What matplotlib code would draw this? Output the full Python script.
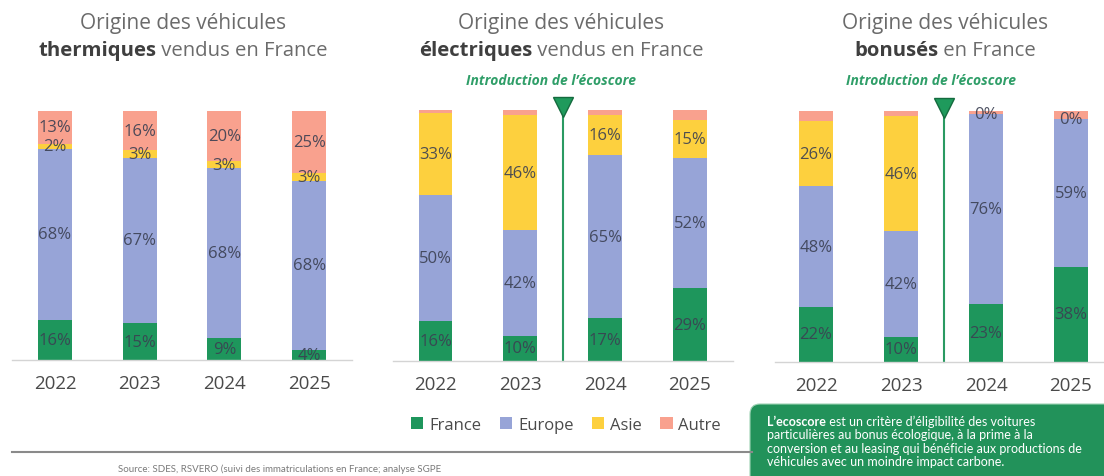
import matplotlib
matplotlib.use("Agg")
import matplotlib.pyplot as plt
from matplotlib.patches import Patch, FancyBboxPatch
from matplotlib.lines import Line2D
from matplotlib.transforms import IdentityTransform
import numpy as np

# ---------------- data ----------------
years = ["2022", "2023", "2024", "2025"]
series = ["France", "Europe", "Asie", "Autre"]

therm_france = [16, 15, 9, 4]
therm_europe = [68, 67, 68, 68]
therm_asie = [2, 3, 3, 3]
therm_autre = [13, 16, 20, 25]

elec_france = [16, 10, 17, 29]
elec_europe = [50, 42, 65, 52]
elec_asie = [33, 46, 16, 15]
elec_autre = [1, 2, 2, 4]

bonus_france = [22, 10, 23, 38]
bonus_europe = [48, 42, 76, 59]
bonus_asie = [26, 46, 0, 0]
bonus_autre = [4, 2, 1, 3]

titles_bold = ["thermiques", "électriques", "bonusés"]
titles_rest = [" vendus en France", " vendus en France", " en France"]

colors = ["#1e965c", "#97a4d7", "#fdd03e", "#f9a18e"]
FONT = "Open Sans"
W, H = 1104, 477

fig = plt.figure(figsize=(W / 100, H / 100), dpi=100)
fig.patch.set_facecolor("white")
renderer = fig.canvas.get_renderer()


def fx(px):
    return px / W


def fy(py):
    return 1 - py / H


def mixed_line(parts, x, y, ha="center", **common):
    """parts: list of (text, kwargs); x,y in pixels (y from top)."""
    texts = []
    widths = []
    for s, kw in parts:
        t = fig.text(0, 0, s, **common, **kw)
        bb = t.get_window_extent(renderer)
        texts.append(t)
        widths.append(bb.width)
    total = sum(widths)
    start = x - total / 2 if ha == "center" else x
    cur = start
    for t, w in zip(texts, widths):
        t.set_position((fx(cur), fy(y)))
        t.set_ha("left")
        t.set_va("center")
        cur += w


# panels: (left px, right px, baseline px, px per unit, first center, spacing)
panels = [
    (12, 352, 361, 2.49, 55, 84.7),
    (393, 733, 362, 2.51, 435.5, 84.8),
    (775, 1104, 363, 2.51, 816, 85.0),
]
data = [
    (therm_france, therm_europe, therm_asie, therm_autre),
    (elec_france, elec_europe, elec_asie, elec_autre),
    (bonus_france, bonus_europe, bonus_asie, bonus_autre),
]
labelled = [[True, True, True, True], [True, True, True, False], [True, True, True, False]]
title_centers = [183, 561, 945]
intro_centers = [None, 551, 931]

YMAX = 105
lab_color = "#3b4052"
for i, (L, R, base, ppu, c0, sp) in enumerate(panels):
    top = base - YMAX * ppu
    ax = fig.add_axes([fx(L), fy(base), fx(R - L), (base - top) / H])
    ax.set_xlim((L - c0) / sp, (R - c0) / sp)
    ax.set_ylim(0, YMAX)
    x = np.arange(len(years))
    raw = np.array(data[i], dtype=float)
    shares = raw / raw.sum(axis=0) * 100  # 100 % stacked
    bottom = np.zeros(len(years))
    for k in range(len(series)):
        vals = shares[k]
        ax.bar(x, vals, width=0.4, bottom=bottom, color=colors[k], linewidth=0, zorder=2)
        if labelled[i][k]:
            for xi, v, b, r in zip(x, vals, bottom, raw[k]):
                ax.text(xi, b + v / 2, f"{int(r)}%", ha="center", va="center",
                        fontsize=12, color=lab_color, alpha=0.9, family=FONT, zorder=3)
        bottom += vals
    for s in ["top", "left", "right"]:
        ax.spines[s].set_visible(False)
    ax.spines["bottom"].set_color("#d4d4d4")
    ax.spines["bottom"].set_linewidth(1)
    ax.set_yticks([])
    ax.set_xticks(x)
    ax.set_xticklabels(years, fontsize=13.5, color="#4a4a4a", family=FONT)
    ax.tick_params(axis="x", length=0, pad=10)
    ax.patch.set_alpha(0)

    if i > 0:
        ax.plot([1.5, 1.5], [0, 100], color="#2a9a62", lw=1.5, zorder=1, clip_on=False)
        ax.plot([1.5], [101], marker="v", markersize=14, color="#1f9a5c",
                markeredgecolor="#146b3e", markeredgewidth=1, clip_on=False, zorder=4)
        fig.text(fx(intro_centers[i]), fy(81), "Introduction de l\u2019écoscore",
                 ha="center", va="center", fontsize=10, color="#2f9e68",
                 style="italic", weight="bold", family=FONT)

    # titles
    fig.text(fx(title_centers[i]), fy(23), "Origine des véhicules", ha="center",
             va="center", fontsize=15, color="#6b6b6b", family=FONT)
    mixed_line([(titles_bold[i], dict(weight="bold", color="#3f3f3f")),
                (titles_rest[i], dict(color="#6b6b6b"))],
               title_centers[i], 51, fontsize=14.6, family=FONT)

# legend
handles = [Patch(facecolor=c, edgecolor="none") for c in colors]
fig.legend(handles, series, loc="center", bbox_to_anchor=(fx(566), fy(426)), ncol=4,
           frameon=False, handlelength=0.75, handleheight=0.75, handletextpad=0.35,
           columnspacing=1.1, prop={"family": FONT, "size": 12}, labelcolor="#4a4a4a")

# bottom rule
fig.add_artist(Line2D([fx(12), fx(752)], [fy(453), fy(453)], color="#8a8a8a", lw=1.5))
fig.text(fx(118), fy(469.5), "Source: SDES, RSVERO (suivi des immatriculations en France; analyse SGPE",
         ha="left", va="center", fontsize=7, color="#7a7a7a", family="Lato")

# green note box
box = FancyBboxPatch((750, -12), 380, 12 + (H - 405), boxstyle="round,pad=0,rounding_size=10",
                     transform=IdentityTransform(), facecolor="#22925a", edgecolor="#9fd3b5",
                     linewidth=0.8)
fig.add_artist(box)
note_lines = [
    [("L\u2019ecoscore", dict(weight="bold")), (" est un critère d\u2019éligibilité des voitures", {})],
    [("particulières au bonus écologique, à la prime à la", {})],
    [("conversion et au leasing qui bénéficie aux productions de", {})],
    [("véhicules avec un moindre impact carbone.", {})],
]
for j, parts in enumerate(note_lines):
    mixed_line(parts, 767, 422 + j * 13.4, ha="left", fontsize=9, color="white", family="Lato")

fig.savefig("out.png", dpi=100, facecolor="white")
